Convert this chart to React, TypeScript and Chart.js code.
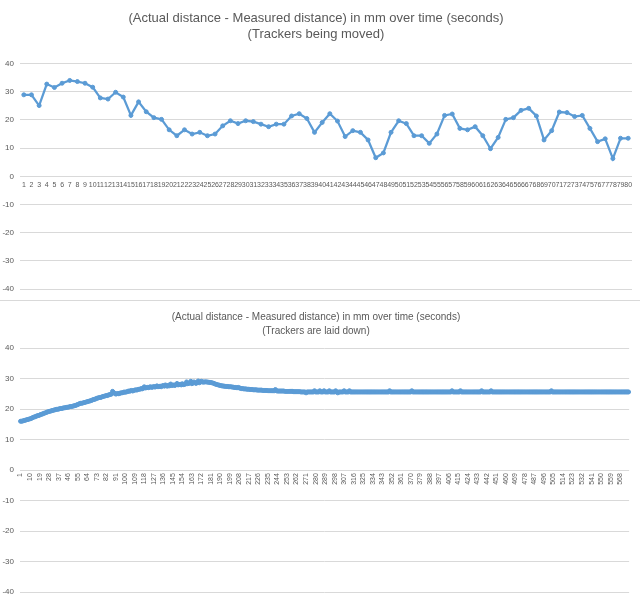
import React, { useEffect, useRef } from 'react';
import { Chart, registerables } from 'chart.js';

Chart.register(...registerables);

const FONT = '"Liberation Sans", Arial, sans-serif';
const TEXT_COLOR = '#595959';
const GRID_COLOR = '#d9d9d9';
const LINE_COLOR = '#5b9bd5';

const TITLE_MOVED = [
  '(Actual distance - Measured distance) in mm over time (seconds)',
  '(Trackers being moved)',
];
const TITLE_LAID = [
  '(Actual distance - Measured distance) in mm over time (seconds)',
  '(Trackers are laid down)',
];

const Y_MIN = -40;
const Y_MAX = 40;
const Y_STEP = 10;
const LAID_LABEL_EVERY = 9;

// Trackers being moved: one value per second (80 s)
const movedValues = [
  28.9, 28.9, 25.1, 32.7, 31.5, 33.0, 34.0, 33.6, 33.0, 31.6,
  27.8, 27.4, 29.8, 28.1, 21.6, 26.4, 22.9, 20.8, 20.2, 16.5,
  14.4, 16.5, 15.0, 15.6, 14.4, 15.0, 17.9, 19.7, 18.7, 19.7,
  19.4, 18.5, 17.6, 18.5, 18.5, 21.4, 22.2, 20.5, 15.6, 19.1,
  22.2, 19.6, 14.1, 16.2, 15.6, 12.9, 6.6, 8.3, 15.6, 19.7,
  18.7, 14.4, 14.4, 11.7, 15.0, 21.6, 22.1, 17.0, 16.5, 17.6,
  14.4, 9.8, 13.8, 20.2, 20.8, 23.4, 24.1, 21.4, 12.9, 16.2,
  22.8, 22.6, 21.2, 21.6, 17.0, 12.3, 13.3, 6.3, 13.5, 13.5,
];

// Trackers laid down: one value per second (576 s)
const laidValues = [
  16.0, 16.0, 16.1, 16.2, 16.3, 16.4, 16.5, 16.6, 16.7, 16.8, 16.9, 17.1,
  17.3, 17.4, 17.5, 17.7, 17.8, 17.9, 18.0, 18.2, 18.3, 18.4, 18.6, 18.7,
  18.8, 19.0, 19.1, 19.2, 19.3, 19.4, 19.5, 19.6, 19.7, 19.8, 19.9, 19.9,
  20.0, 20.1, 20.2, 20.2, 20.3, 20.4, 20.4, 20.5, 20.6, 20.6, 20.7, 20.8,
  20.8, 20.9, 21.0, 21.1, 21.2, 21.3, 21.5, 21.6, 21.8, 21.9, 21.9, 22.0,
  22.1, 22.2, 22.3, 22.4, 22.5, 22.6, 22.7, 22.8, 23.0, 23.1, 23.2, 23.3,
  23.5, 23.6, 23.7, 23.8, 23.8, 24.0, 24.1, 24.2, 24.3, 24.4, 24.4, 24.6,
  24.7, 24.8, 24.9, 25.8, 25.4, 25.2, 24.9, 25.0, 25.1, 25.0, 25.2, 25.3,
  25.3, 25.4, 25.6, 25.5, 25.6, 25.7, 25.9, 25.8, 26.0, 26.1, 25.9, 26.1,
  26.2, 26.3, 26.2, 26.4, 26.5, 26.5, 26.7, 26.6, 26.8, 27.3, 26.9, 27.0,
  27.1, 27.0, 27.2, 27.3, 27.1, 27.2, 27.4, 27.2, 27.3, 27.6, 27.3, 27.4,
  27.5, 27.3, 27.6, 27.7, 27.5, 27.9, 27.6, 27.5, 27.8, 27.6, 28.2, 27.7,
  27.8, 27.9, 27.7, 28.0, 28.4, 27.9, 28.0, 28.1, 27.9, 28.3, 28.0, 28.1,
  28.2, 28.9, 28.3, 28.4, 28.6, 29.1, 28.3, 28.5, 28.9, 28.6, 28.4, 28.7,
  29.2, 28.6, 28.8, 29.1, 28.9, 28.8, 28.9, 28.9, 28.9, 28.8, 28.8, 28.7,
  28.7, 28.6, 28.5, 28.4, 28.2, 28.1, 28.0, 27.9, 27.8, 27.7, 27.6, 27.6,
  27.5, 27.5, 27.4, 27.4, 27.4, 27.3, 27.3, 27.3, 27.2, 27.2, 27.1, 27.1,
  27.0, 27.0, 27.1, 26.9, 26.8, 26.7, 26.7, 26.6, 26.6, 26.6, 26.5, 26.5,
  26.5, 26.4, 26.4, 26.4, 26.3, 26.3, 26.3, 26.3, 26.2, 26.2, 26.2, 26.2,
  26.2, 26.1, 26.1, 26.1, 26.1, 26.1, 26.0, 26.0, 26.0, 26.0, 26.0, 26.0,
  26.0, 26.4, 26.0, 25.9, 25.9, 25.9, 25.9, 25.9, 25.9, 25.9, 25.8, 25.8,
  25.8, 25.8, 25.8, 25.8, 25.8, 25.8, 25.7, 25.7, 25.7, 25.7, 25.7, 25.7,
  25.7, 25.6, 25.6, 25.6, 25.6, 25.6, 25.3, 25.6, 25.6, 25.6, 25.6, 25.6,
  25.6, 25.6, 26.0, 25.6, 25.6, 25.6, 25.6, 26.0, 25.6, 25.6, 25.6, 26.0,
  25.6, 25.6, 25.6, 25.6, 26.0, 25.6, 25.6, 25.6, 25.6, 25.6, 26.0, 25.6,
  25.3, 25.6, 25.6, 25.6, 25.6, 25.6, 26.0, 25.6, 25.6, 25.6, 25.6, 26.0,
  25.6, 25.6, 25.6, 25.6, 25.6, 25.6, 25.6, 25.6, 25.6, 25.6, 25.6, 25.6,
  25.6, 25.6, 25.6, 25.6, 25.6, 25.6, 25.6, 25.6, 25.6, 25.6, 25.6, 25.6,
  25.6, 25.6, 25.6, 25.6, 25.6, 25.6, 25.6, 25.6, 25.6, 25.6, 25.6, 25.6,
  25.6, 26.0, 25.6, 25.6, 25.6, 25.6, 25.6, 25.6, 25.6, 25.6, 25.6, 25.6,
  25.6, 25.6, 25.6, 25.6, 25.6, 25.6, 25.6, 25.6, 25.6, 25.6, 26.0, 25.6,
  25.6, 25.6, 25.6, 25.6, 25.6, 25.6, 25.6, 25.6, 25.6, 25.6, 25.6, 25.6,
  25.6, 25.6, 25.6, 25.6, 25.6, 25.6, 25.6, 25.6, 25.6, 25.6, 25.6, 25.6,
  25.6, 25.6, 25.6, 25.6, 25.6, 25.6, 25.6, 25.6, 25.6, 25.6, 25.6, 25.6,
  26.0, 25.6, 25.6, 25.6, 25.6, 25.6, 25.6, 25.6, 26.0, 25.6, 25.6, 25.6,
  25.6, 25.6, 25.6, 25.6, 25.6, 25.6, 25.6, 25.6, 25.6, 25.6, 25.6, 25.6,
  25.6, 25.6, 25.6, 25.6, 26.0, 25.6, 25.6, 25.6, 25.6, 25.6, 25.6, 25.6,
  25.6, 26.0, 25.6, 25.6, 25.6, 25.6, 25.6, 25.6, 25.6, 25.6, 25.6, 25.6,
  25.6, 25.6, 25.6, 25.6, 25.6, 25.6, 25.6, 25.6, 25.6, 25.6, 25.6, 25.6,
  25.6, 25.6, 25.6, 25.6, 25.6, 25.6, 25.6, 25.6, 25.6, 25.6, 25.6, 25.6,
  25.6, 25.6, 25.6, 25.6, 25.6, 25.6, 25.6, 25.6, 25.6, 25.6, 25.6, 25.6,
  25.6, 25.6, 25.6, 25.6, 25.6, 25.6, 25.6, 25.6, 25.6, 25.6, 26.0, 25.6,
  25.6, 25.6, 25.6, 25.6, 25.6, 25.6, 25.6, 25.6, 25.6, 25.6, 25.6, 25.6,
  25.6, 25.6, 25.6, 25.6, 25.6, 25.6, 25.6, 25.6, 25.6, 25.6, 25.6, 25.6,
  25.6, 25.6, 25.6, 25.6, 25.6, 25.6, 25.6, 25.6, 25.6, 25.6, 25.6, 25.6,
  25.6, 25.6, 25.6, 25.6, 25.6, 25.6, 25.6, 25.6, 25.6, 25.6, 25.6, 25.6,
  25.6, 25.6, 25.6, 25.6, 25.6, 25.6, 25.6, 25.6, 25.6, 25.6, 25.6, 25.6,
  25.6, 25.6, 25.6, 25.6, 25.6, 25.6, 25.6, 25.6, 25.6, 25.6, 25.6, 25.6,
];

const movedLabels = movedValues.map((_, i) => String(i + 1));
const laidLabels = laidValues.map((_, i) => String(i + 1));

type ChartSpec = {
  labels: string[];
  values: number[];
  title: string[];
  titleSize: number;
  titleLineHeight: number;
  titlePadding: { top: number; bottom: number };
  layoutPadding: { left: number; right: number; top: number; bottom: number };
  xFontSize: number;
  xRotation: number;
  xPadding: number;
  labelEvery: number;
  pointRadius: number;
  lineWidth: number;
  height: number;
};

function LineChart({ spec }: { spec: ChartSpec }) {
  const ref = useRef<HTMLCanvasElement | null>(null);
  useEffect(() => {
    if (!ref.current) return;
    const chart = new Chart(ref.current, {
      type: 'line',
      data: {
        labels: spec.labels,
        datasets: [
          {
            data: spec.values,
            borderColor: LINE_COLOR,
            backgroundColor: LINE_COLOR,
            borderWidth: spec.lineWidth,
            pointRadius: spec.pointRadius,
            pointBorderWidth: 1,
            pointBackgroundColor: LINE_COLOR,
            pointBorderColor: LINE_COLOR,
            tension: 0,
            fill: false,
          },
        ],
      },
      options: {
        animation: false,
        responsive: false,
        devicePixelRatio: 1,
        layout: { padding: spec.layoutPadding },
        plugins: {
          legend: { display: false },
          tooltip: { enabled: false },
          title: {
            display: true,
            text: spec.title,
            color: TEXT_COLOR,
            font: { family: FONT, size: spec.titleSize, weight: 'normal', lineHeight: spec.titleLineHeight },
            padding: spec.titlePadding,
          },
        },
        scales: {
          x: {
            type: 'category',
            position: { y: 0 } as any,
            offset: true,
            grid: { display: false, drawTicks: false },
            border: { display: false },
            ticks: {
              autoSkip: false,
              minRotation: spec.xRotation,
              maxRotation: spec.xRotation,
              padding: spec.xPadding,
              color: TEXT_COLOR,
              font: { family: FONT, size: spec.xFontSize },
              callback: function (this: any, value: any, index: number) {
                return index % spec.labelEvery === 0 ? this.getLabelForValue(value) : '';
              },
            },
          },
          y: {
            min: Y_MIN,
            max: Y_MAX,
            grid: { color: GRID_COLOR, lineWidth: 1, drawTicks: false },
            border: { display: false },
            ticks: {
              stepSize: Y_STEP,
              padding: 6,
              color: TEXT_COLOR,
              font: { family: FONT, size: 8 },
            },
            afterFit: (scale: any) => {
              scale.width = 20;
            },
          },
        },
      },
    });
    return () => chart.destroy();
  }, [spec]);
  return <canvas ref={ref} width={640} height={spec.height} style={{ display: 'block' }} />;
}

const movedSpec: ChartSpec = {
  labels: movedLabels,
  values: movedValues,
  title: TITLE_MOVED,
  titleSize: 13,
  titleLineHeight: 1.25,
  titlePadding: { top: 10, bottom: 21 },
  layoutPadding: { left: 0, right: 8, top: 0, bottom: 8 },
  xFontSize: 7,
  xRotation: 0,
  xPadding: 5,
  labelEvery: 1,
  pointRadius: 2,
  lineWidth: 2.25,
  height: 300,
};

const laidSpec: ChartSpec = {
  labels: laidLabels,
  values: laidValues,
  title: TITLE_LAID,
  titleSize: 10,
  titleLineHeight: 1.4,
  titlePadding: { top: 9, bottom: 10 },
  layoutPadding: { left: 0, right: 8, top: 0, bottom: 10 },
  xFontSize: 7,
  xRotation: 90,
  xPadding: 3,
  labelEvery: LAID_LABEL_EVERY,
  pointRadius: 2,
  lineWidth: 2,
  height: 302,
};

export default function App() {
  return (
    <div style={{ position: 'absolute', left: 0, top: 0, width: 640, height: 603, background: '#fff', overflow: 'hidden' }}>
      <LineChart spec={movedSpec} />
      <div style={{ height: 1, background: '#d9d9d9' }} />
      <LineChart spec={laidSpec} />
    </div>
  );
}
